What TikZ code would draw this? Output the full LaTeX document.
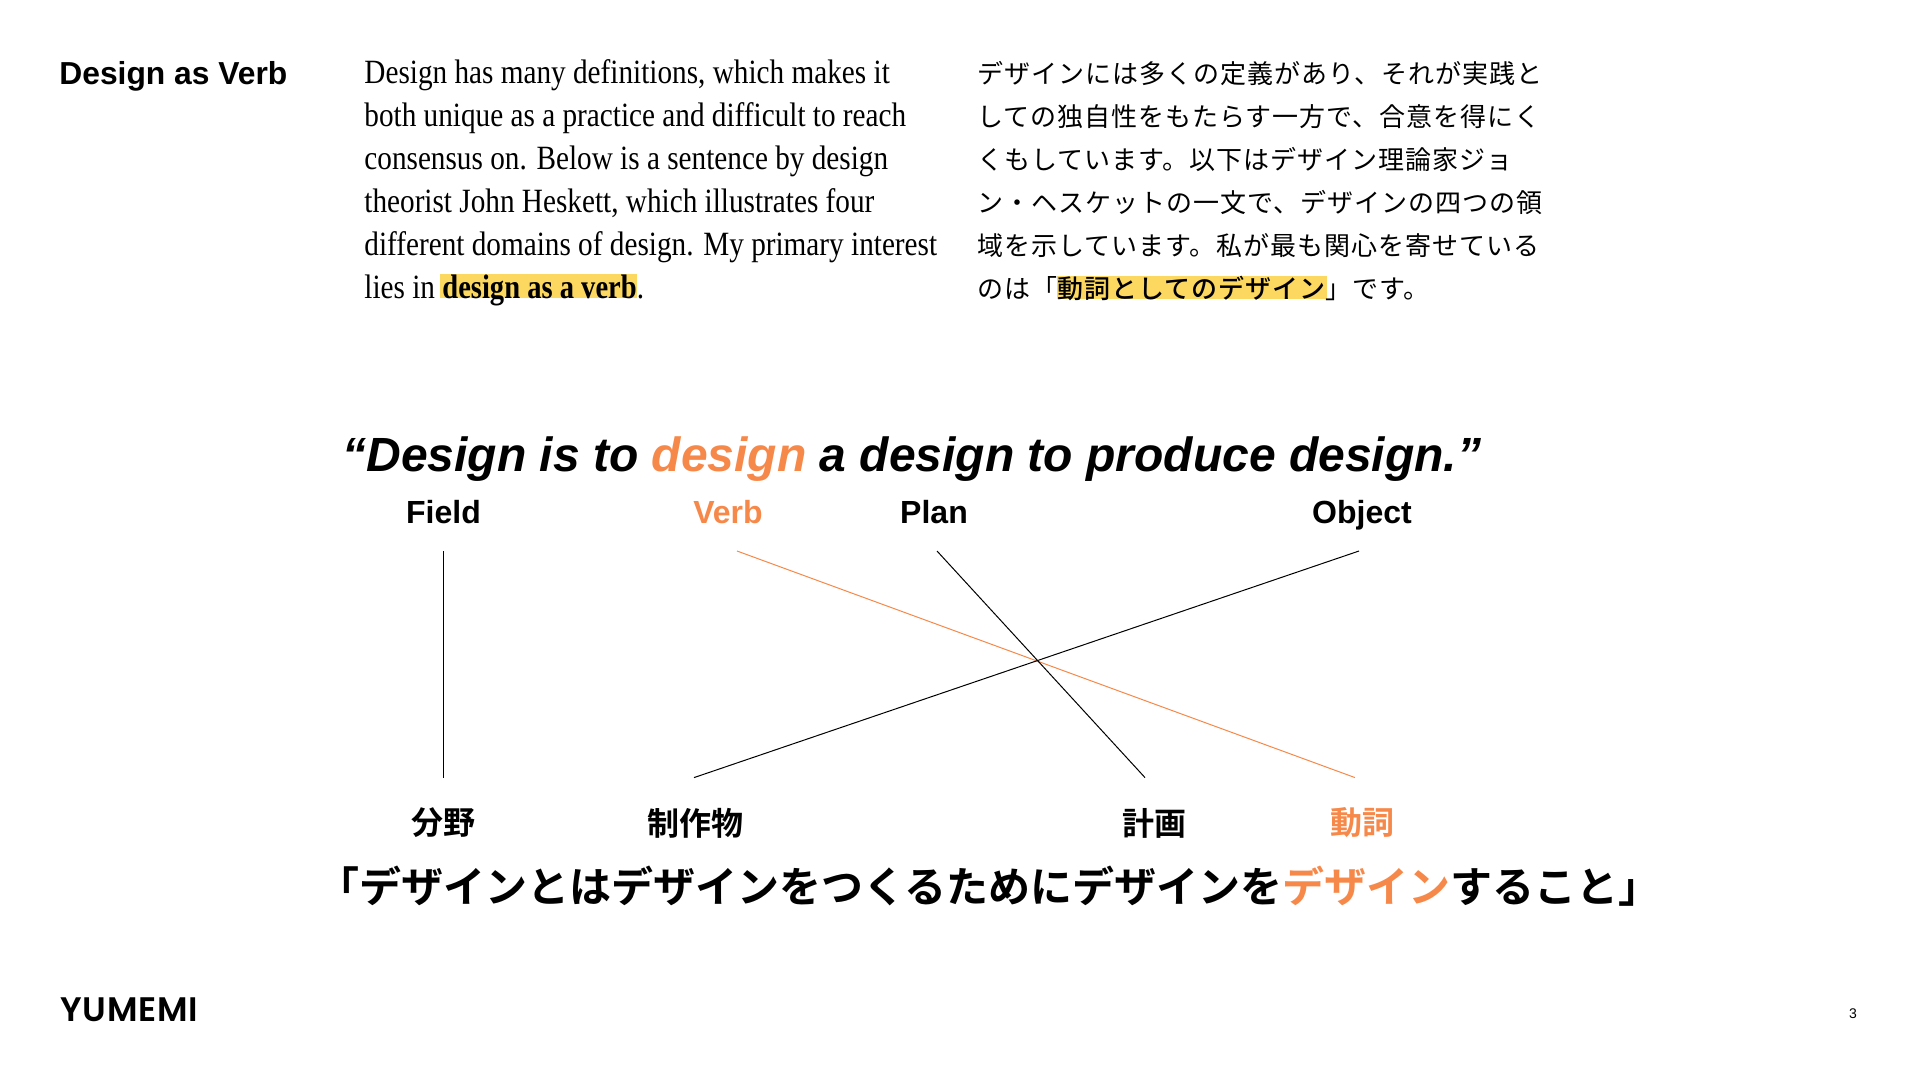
\documentclass[tikz,border=0pt]{standalone}
\usepackage{fontspec}
\usepackage{xcolor}
\usetikzlibrary{positioning,calc}
\setmainfont{Liberation Sans}
\newfontfamily\bodyfont[FakeStretch=0.86,BoldFeatures={FakeStretch=0.84}]{Liberation Serif}
\newfontfamily\jpfont[LetterSpace=3.8]{Noto Sans CJK JP}
\newfontfamily\jpmarkfont[LetterSpace=3.8]{Noto Sans CJK JP Medium}
\newfontfamily\jpboldfont{Noto Sans CJK JP Bold}
\newfontfamily\logofont[LetterSpace=2]{Poppins SemiBold}
\definecolor{accent}{HTML}{F6894A}
\definecolor{marker}{HTML}{FCD860}

\begin{document}
\begin{tikzpicture}[
  x=0.5pt,y=-0.5pt,
  head/.style={anchor=base west,inner sep=0pt,font=\fontsize{15.9}{20}\selectfont\bfseries},
  para/.style={anchor=base west,inner sep=0pt,align=left},
  hilite/.style={fill=marker,inner sep=0pt,anchor=north west},
  toplabel/.style={inner sep=0pt,font=\fontsize{16}{20}\selectfont\bfseries,minimum height=15pt,anchor=south},
  lowlabel/.style={inner sep=0pt,font=\fontsize{16}{20}\jpboldfont},
  link/.style={line width=0.5pt,black},
  linkverb/.style={line width=0.5pt,accent},
]
\useasboundingbox (0,0) rectangle (1920,1080);

% highlights go under the text
\node[hilite,minimum width=98.5pt,minimum height=12pt] (markeren) at (440,274) {};
\node[hilite,minimum width=135pt,minimum height=11.5pt] (markerjp) at (1057,276) {};

\node[head] (title) at (59,85) {Design as Verb};

\node[para,font=\fontsize{17}{21.5}\bodyfont] (bodyen) at (364,299) {Design has many definitions, which makes it\\
both unique as a practice and difficult to reach\\
consensus on. Below is a sentence by design\\
theorist John Heskett, which illustrates four\\
different domains of design. My primary interest\\
lies in \textbf{design as a verb}.};

\node[para,font=\fontsize{13}{21.5}\jpfont] (bodyjp) at (977,299) {デザインには多くの定義があり、それが実践と\\
しての独自性をもたらす一方で、合意を得にく\\
くもしています。以下はデザイン理論家ジョ\\
ン・ヘスケットの一文で、デザインの四つの領\\
域を示しています。私が最も関心を寄せている\\
のは「{\jpmarkfont 動詞としてのデザイン}」です。};

\node[anchor=base west,inner sep=0pt,font=\fontsize{24}{30}\selectfont\bfseries\itshape] (quoteen) at (342,471)
  {“Design is to \textcolor{accent}{design} a design to produce design.”};

\node[toplabel] (field) at (443.5,551) {\raisebox{13.5pt}{Field}};
\node[toplabel,text=accent] (verb) at (728,551) {\raisebox{13.5pt}{Verb}};
\node[toplabel] (plan) at (934,551) {\raisebox{13.5pt}{Plan}};
\node[toplabel] (object) at (1362,551) {\raisebox{13.5pt}{Object}};

\node[lowlabel,minimum height=45pt] (bunya) at (443.5,823) {分野};
\node[lowlabel,minimum height=45pt] (seisaku) at (695,823) {制作物};
\node[lowlabel,minimum height=45pt] (keikaku) at (1154,823) {計画};
\node[lowlabel,minimum height=45pt,text=accent] (doushi) at (1362,823) {動詞};

\draw[link] (field.south) -- (bunya.north);
\draw[linkverb] ([xshift=4.5pt]verb.south) -- ([xshift=-3.5pt]doushi.north);
\draw[link] ([xshift=1.5pt]plan.south) -- ([xshift=-4.5pt]keikaku.north);
\draw[link] ([xshift=-1.5pt]object.south) -- ([xshift=-0.5pt]seisaku.north);

\node[inner sep=0pt,font=\fontsize{21}{24}\jpboldfont] (quotejp) at (989,886)
  {「デザインとはデザインをつくるためにデザインを\textcolor{accent}{デザイン}すること」};

\node[anchor=base west,inner sep=0pt,font=\fontsize{17}{20}\logofont] (logo) at (60,1021) {YUMEMI};
\node[inner sep=0pt,font=\fontsize{7}{8}\selectfont] (pageno) at (1853,1014) {3};
\end{tikzpicture}
\end{document}
